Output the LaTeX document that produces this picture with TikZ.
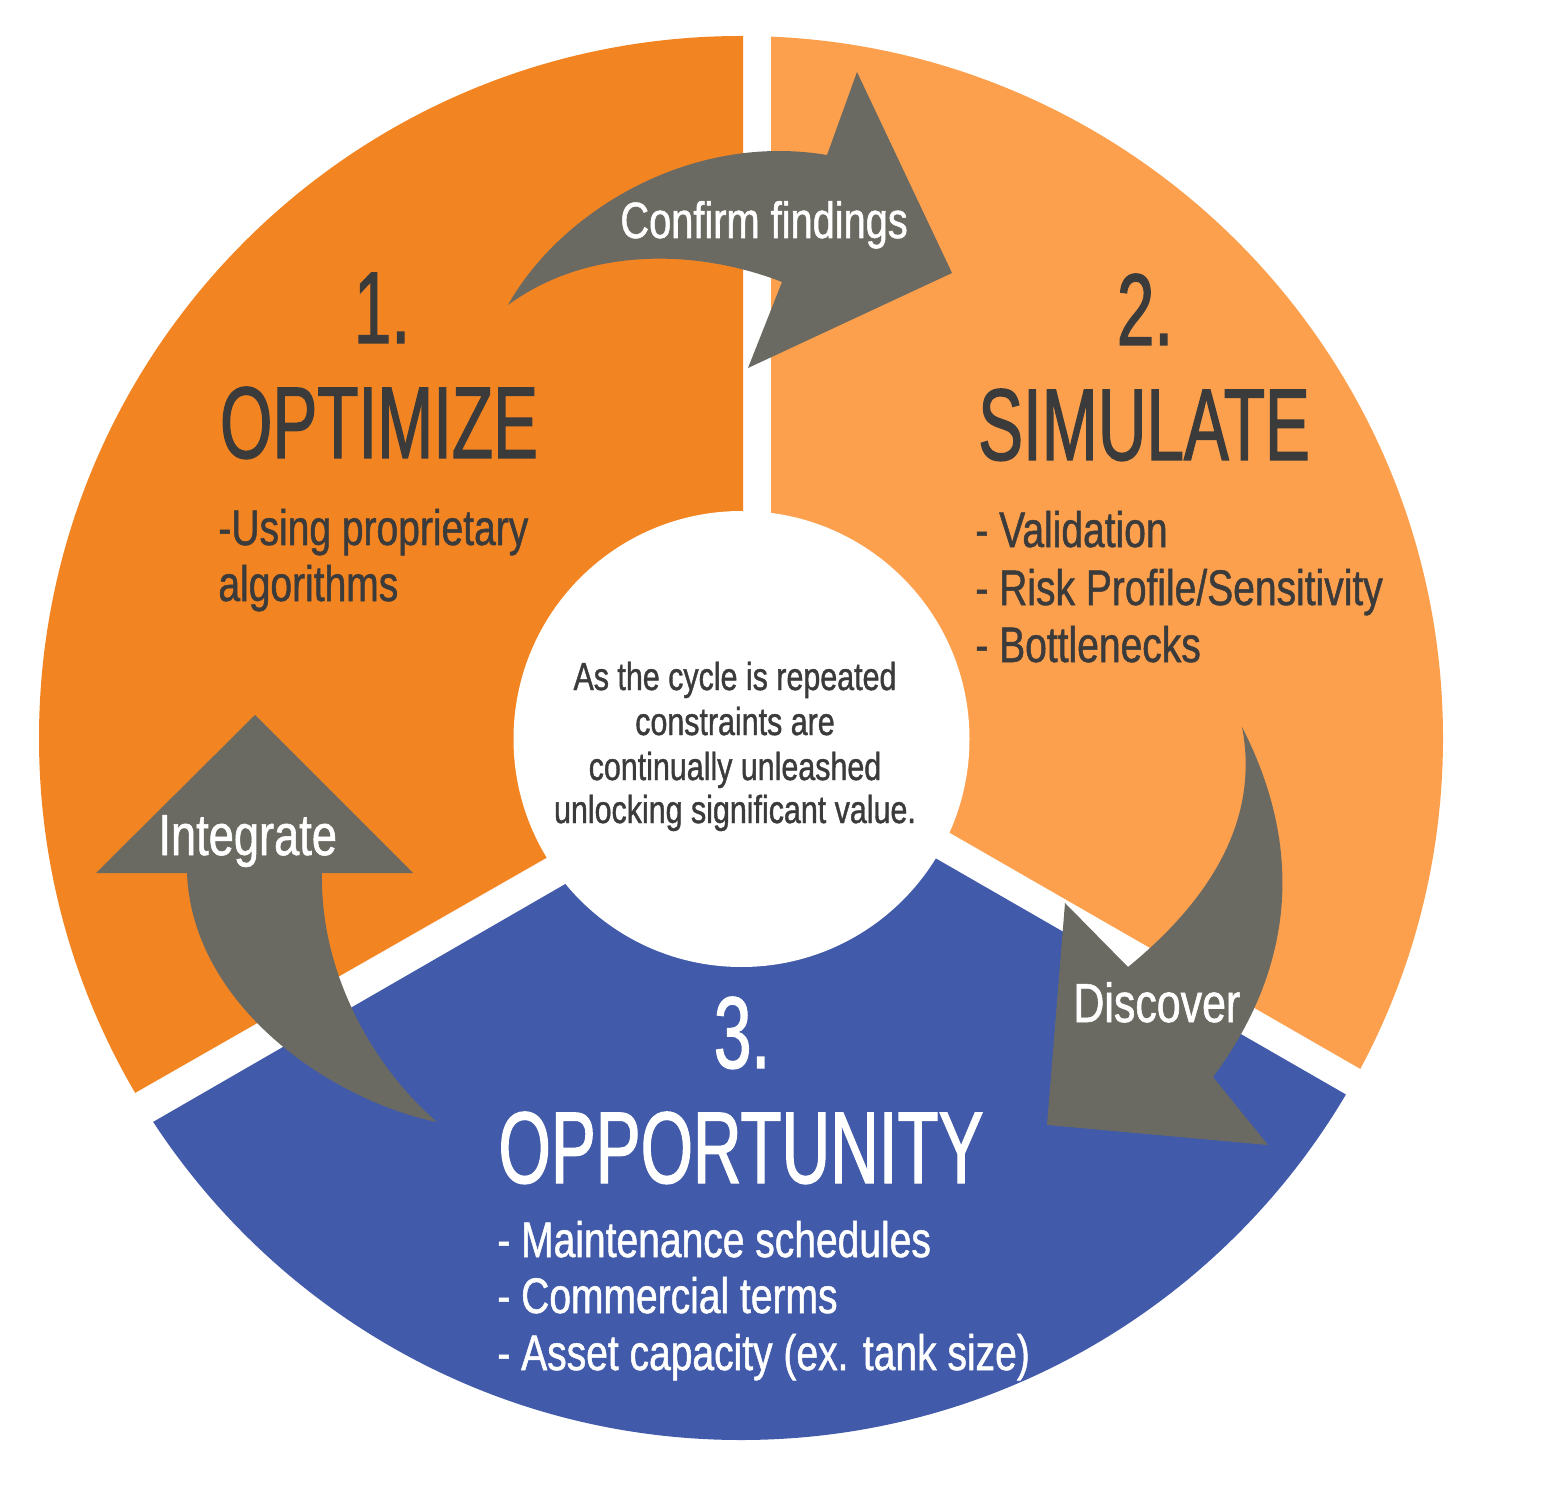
\documentclass[tikz,border=0pt]{standalone}
\usepackage{fontspec}
\newfontfamily\titlef[FakeStretch=0.66,FakeBold=1.2]{Liberation Sans}
\newfontfamily\bodyf[FakeStretch=0.78,FakeBold=1.0]{Liberation Sans}
\definecolor{segA}{HTML}{F28522}
\definecolor{segB}{HTML}{FDA04D}
\definecolor{segC}{HTML}{415AA9}
\definecolor{arrowgray}{HTML}{6B6A62}
\definecolor{darktext}{HTML}{3B3B3B}
\tikzset{
  titletext/.style={inner sep=0pt, anchor=base, font=\titlef\fontsize{51}{60}\selectfont},
  bodytext/.style={inner sep=0pt, anchor=base west, font=\bodyf\fontsize{25}{28.5}\selectfont},
  centertext/.style={inner sep=0pt, anchor=base, text=darktext, font=\bodyf\fontsize{19.5}{22}\selectfont},
  arrowlabel/.style={inner sep=0pt, anchor=base west, text=white},
  bigarrow/.style={fill=arrowgray}
}
\begin{document}
\begin{tikzpicture}[x=0.5pt, y=-0.5pt]
\useasboundingbox (0,0) rectangle (1557,1486);
\fill[white] (0,0) rectangle (1557,1486);
% segments
\begin{scope}
  \clip (741,738) circle (702);
  \fill[segA] (0,0) -- (743,0) -- (743,745.6) -- (0,1170.1) -- cycle;
  \fill[segB] (771,0) -- (1557,0) -- (1557,1182) -- (771,730) -- cycle;
  \fill[segC] (0,1210.3) -- (772.5,764.4) -- (1557,1216) -- (1557,1486) -- (0,1486) -- cycle;
\end{scope}
\fill[white] (741.5,739) circle (228);
% arrows
\fill[bigarrow] (508,305) .. controls (560,212) and (690,132) .. (827,155)
  -- (857,72) -- (952,273) -- (748,368) -- (782,282)
  .. controls (700,250) and (590,245) .. (508,305) -- cycle;
\fill[bigarrow] (437,1122) .. controls (330,1100) and (192,1005) .. (187,873)
  -- (96,873) -- (255,715) -- (413,873) -- (322,873)
  .. controls (320,972) and (372,1066) .. (437,1122) -- cycle;
\fill[bigarrow] (1242,727) .. controls (1300,840) and (1300,960) .. (1213,1077)
  -- (1268,1145) -- (1047,1125) -- (1065,903) -- (1128,967)
  .. controls (1210,900) and (1260,820) .. (1242,727) -- cycle;
% segment 1 texts
\node[titletext, text=darktext] (num1) at (382,343) {1.};
\node[titletext, text=darktext] (optimize) at (379,458) {OPTIMIZE};
\node[bodytext, text=darktext] (opt1) at (218,545) {-Using proprietary};
\node[bodytext, text=darktext] (opt2) at (218,601) {algorithms};
% segment 2 texts
\node[titletext, text=darktext] (num2) at (1145,345) {2.};
\node[titletext, text=darktext] (simulate) at (1144,460) {SIMULATE};
\node[bodytext, text=darktext] (sim1) at (975,547) {- Validation};
\node[bodytext, text=darktext] (sim2) at (975,605) {- Risk Profile/Sensitivity};
\node[bodytext, text=darktext] (sim3) at (975,662) {- Bottlenecks};
% segment 3 texts
\node[titletext, text=white] (num3) at (742,1068) {3.};
\node[titletext, text=white] (opportunity) at (741,1183) {OPPORTUNITY};
\node[bodytext, text=white] (opp1) at (497,1257) {- Maintenance schedules};
\node[bodytext, text=white] (opp2) at (497,1313) {- Commercial terms};
\node[bodytext, text=white] (opp3) at (497,1370) {- Asset capacity (ex. tank size)};
% center
\node[centertext] (c1) at (735,690) {As the cycle is repeated};
\node[centertext] (c2) at (735,735) {constraints are};
\node[centertext] (c3) at (735,780) {continually unleashed};
\node[centertext] (c4) at (735,823) {unlocking significant value.};
% arrow labels
\node[arrowlabel, font=\bodyf\fontsize{25.5}{30}\selectfont] (confirm) at (620,238) {Confirm findings};
\node[arrowlabel, font=\bodyf\fontsize{29}{33}\selectfont] (integrate) at (158,855) {Integrate};
\node[arrowlabel, font=\bodyf\fontsize{27.5}{32}\selectfont] (discover) at (1073,1022) {Discover};
\end{tikzpicture}
\end{document}
